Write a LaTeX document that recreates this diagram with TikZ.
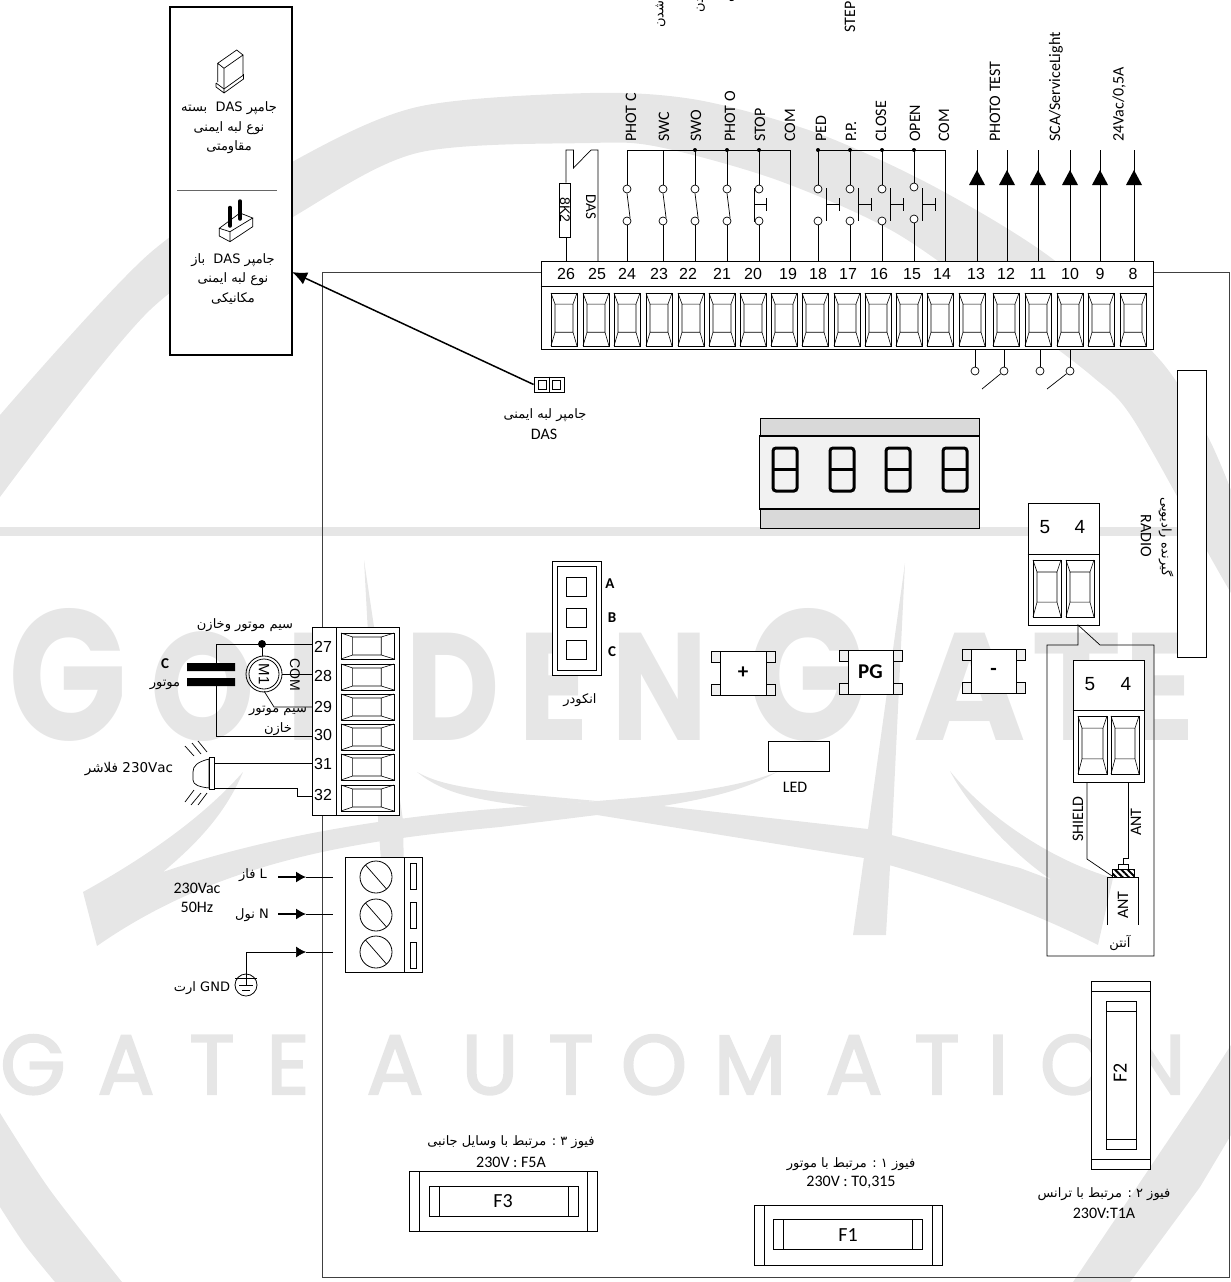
\documentclass[tikz,border=0pt]{standalone}
\usepackage{fontspec}
\usepackage{xcolor}
\usepackage{tikz}
\usetikzlibrary{positioning}
\usetikzlibrary{arrows.meta,patterns.meta}
\setmainfont{Carlito}
\newfontfamily\arabicfont[Script=Arabic]{DejaVu Sans}
\newfontfamily\numfont{Liberation Sans}
\newfontfamily\markfont{Poppins}
\newfontfamily\markthin[FakeBold=2.5]{Poppins}
\TeXXeTstate=1
\definecolor{markgray}{HTML}{E6E6E6}
\newcommand{\fa}[1]{\beginR #1\endR}
\newcommand{\lat}[1]{\beginL #1\endL{}}
\newcommand{\termcell}[4]{%
  \draw[type-cell] (#1,#2) rectangle ++(#3,#4);
  \draw[type-cell] (#1,#2) -- (#1+4,#2+.21*#4) -- (#1+4,#2+.74*#4) -- (#1,#2+#4)
    (#1+#3,#2) -- (#1+#3-4,#2+.21*#4) -- (#1+#3-4,#2+.74*#4) -- (#1+#3,#2+#4)
    (#1+4,#2+.21*#4) -- (#1+#3-4,#2+.21*#4) (#1+4,#2+.74*#4) -- (#1+#3-4,#2+.74*#4);}
\newcommand{\termcellh}[4]{%
  \draw[type-cell] (#1,#2) rectangle ++(#3,#4);
  \draw[type-cell] (#1,#2) -- (#1+.22*#3,#2+4) -- (#1+.76*#3,#2+4) -- (#1+#3,#2)
    (#1,#2+#4) -- (#1+.22*#3,#2+#4-4) -- (#1+.76*#3,#2+#4-4) -- (#1+#3,#2+#4)
    (#1+.22*#3,#2+4) -- (#1+.22*#3,#2+#4-4) (#1+.76*#3,#2+4) -- (#1+.76*#3,#2+#4-4);}
\newcommand{\fusebox}[8]{%
  \draw[type-wire,fill=white] (#1,#3) rectangle (#2,#4);
  \draw[type-wire] (#1+10,#3) -- (#1+10,#4) (#2-10,#3) -- (#2-10,#4);
  \draw[type-wire] (#5,#7) rectangle (#6,#8);
  \draw[type-wire] (#5+10,#7) -- (#5+10,#8) (#6-10,#7) -- (#6-10,#8);}
\begin{document}
\begin{tikzpicture}[
      x=1pt, y=-1pt,
      type-mark/.style={fill=markgray},
      type-big/.style={text=markgray, anchor=base, inner sep=0pt, transform shape, font=\fontsize{153}{153}\selectfont\markfont\bfseries},
      type-tall/.style={type-big, font=\fontsize{186}{186}\selectfont\markfont\bfseries},
      type-thin/.style={text=markgray, anchor=base, inner sep=0pt, font=\fontsize{84}{84}\selectfont\markthin},
      type-wire/.style={draw=black, line width=.7pt},
      type-cell/.style={draw=black, line width=.6pt},
      type-board/.style={draw=black!75, line width=1pt},
      type-block/.style={rectangle, draw=black, line width=.8pt, fill=white, inner sep=0pt},
      type-contact/.style={circle, draw=black, line width=.7pt, fill=white, minimum size=8pt, inner sep=0pt},
      type-dot/.style={circle, fill=black, minimum size=4pt, inner sep=0pt},
      type-label/.style={rotate=90, anchor=west, inner sep=0pt, font=\fontsize{16}{18}\selectfont},
      type-num/.style={inner sep=0pt, font=\fontsize{16}{16}\selectfont\numfont},
      type-fa/.style={inner sep=0pt, align=center, font=\fontsize{13}{19.5}\selectfont\arabicfont},
      type-text/.style={inner sep=0pt, align=center, font=\fontsize{16}{19}\selectfont},
      type-key/.style={inner sep=0pt, font=\fontsize{15}{15}\selectfont\bfseries},
      type-pad/.style={draw=black, line width=.7pt, fill=black!6}
    ]
      \useasboundingbox (0,0) rectangle (1231,1282);
      % watermark
      \fill[type-mark] (0,527) rectangle (1231,536);
      \fill[type-mark] plot[smooth] coordinates {(0,415) (150,253) (292,162) (417,107) (590,93) (698,100) (817,133) (935,187) (1054,260) (1160,360) (1207,435) (1231,490)}
        -- plot[smooth] coordinates {(1231,593) (1212,560) (1133,419) (1093,377) (1014,317) (896,233) (777,180) (659,147) (590,143) (417,153) (293,217) (150,310) (0,497)} -- cycle;
      \fill[type-mark] plot[smooth] coordinates {(0,1113) (50,1190) (122,1282)} -- (55,1282) -- plot[smooth] coordinates {(55,1282) (25,1245) (0,1207)} -- cycle;
      \fill[type-mark] (1231,1045) -- (1200,1093) -- (1073,1282) -- (1130,1282) -- (1200,1187) -- (1231,1135) -- cycle;
      \fill[type-mark] (83,892) .. controls (150,855) and (205,815) .. (243,772) .. controls (225,815) and (195,845) .. (163,872)
        .. controls (270,835) and (400,815) .. (520,807) -- (597,801) .. controls (670,795) and (730,790) .. (777,772)
        .. controls (745,790) and (710,798) .. (663,806) -- (868,829) -- (1020,868) -- (1052,880) .. controls (1020,860) and (970,810) .. (950,771)
        .. controls (985,815) and (1050,860) .. (1113,878) -- (1098,945) .. controls (1040,915) and (960,885) .. (889,865) -- (864,858) -- (597,815)
        -- (500,827) .. controls (360,840) and (220,860) .. (97,946) -- cycle;
      \fill[type-mark] (417,772) .. controls (440,785) and (470,788) .. (500,792) -- (597,801) -- (532,807) .. controls (480,800) and (445,795) .. (417,772) -- cycle;
      \fill[type-mark] (905,563) -- (892,833) -- (886,935) -- (853,935) -- (868,829) -- cycle;
      \fill[type-mark] (364,560) -- (403,820) -- (405,933) -- (386,933) -- (378,818) -- cycle;
      \foreach \ch/\px/\sx in {G/68/.84,G/807/.84} {
        \node[type-tall, xscale=\sx] (mark-\px) at (\px,740) {\ch};
      }
      \foreach \ch/\px/\sx in {O/203/.87,L/335/1.5,D/453/.85,E/554/.85,N/660/.84,A/970/1,T/1077/1,E/1160/.85} {
        \node[type-big, xscale=\sx] (mark-\px) at (\px,740) {\ch};
      }
      \foreach \ch/\px in {G/33,A/126,T/212,E/288,A/395,U/490,T/571,O/654,M/750,A/854,T/937,I/998,O/1073,N/1156} {
        \node[type-thin] (auto-\px) at (\px,1094) {\ch};
      }
      % board
      \draw[type-board] (322,272) rectangle (1229,1277);
      % top terminal
      \node[type-block, minimum width=612pt, minimum height=88pt] (top-block) at (847,305.5) {};
      \draw[type-wire] (top-block.west |- 0,286) -- (top-block.east |- 0,286);
      \foreach \n/\px in {26/566,25/597,24/627,23/659,22/688,21/722,20/753,19/788,18/818,17/848,16/879,15/912,14/942,13/976,12/1006,11/1038,10/1070,9/1100,8/1133} {
        \node[type-num] (t\n) at (\px,274) {\n};
      }
      \foreach \px in {551,583,614,646,678,709,740,771,802,834,865,896,927,959,993,1025,1057,1088,1120} {
        \termcell{\px}{293}{26}{53}
      }
      % switches on the top terminal
      \foreach \n/\px in {24/627,23/663,22/695,21/727} {
        \coordinate (w\n) at (\px,150);
        \node[type-contact] (c\n-a) at (\px,189) {};
        \node[type-contact] (c\n-b) at (\px,221) {};
        \draw[type-wire] (w\n) -- (c\n-a);
        \draw[type-wire] (c\n-a.south) -- (c\n-b.north east);
        \draw[type-wire] (c\n-b) -- (c\n-b |- top-block.north);
      }
      \coordinate (w20) at (759,150);
      \node[type-contact] (c20-a) at (759,189) {};
      \node[type-contact] (c20-b) at (759,221) {};
      \draw[type-wire] (w20) -- (c20-a);
      \draw[type-wire] (c20-b) -- (c20-b |- top-block.north);
      \draw[type-wire] (754,188) -- (754,222) (754,204) -- (766,204) (766,198) -- (766,211);
      \coordinate (w19) at (790,150);
      \draw[type-wire] (w24) -- (w19) -- (w19 |- top-block.north);
      \foreach \n in {22,21,20} {
        \node[type-dot] (d\n) at (w\n) {};
      }
      \foreach \n/\px/\bx/\cy in {18/818/826/189,17/850/858/189,16/882/890/189,15/914/922/187} {
        \coordinate (w\n) at (\px,150);
        \node[type-contact] (c\n-a) at (\px,\cy) {};
        \node[type-contact] (c\n-b) at (\px,\cy+32) {};
        \node[type-dot] (d\n) at (w\n) {};
        \draw[type-wire] (w\n) -- (c\n-a);
        \draw[type-wire] (c\n-b) -- (c\n-b |- top-block.north);
        \draw[type-wire] (\bx,188) -- (\bx,221) (\bx,204) -- (\bx+13,204) (\bx+13,198) -- (\bx+13,211);
      }
      \coordinate (w14) at (945,150);
      \draw[type-wire] (w18) -- (w14) -- (w14 |- top-block.north);
      % resistor and DAS link
      \node[type-block, minimum width=11pt, minimum height=54pt] (res) at (565,210) {};
      \node[rotate=-90, inner sep=0pt, font=\fontsize{14}{14}\selectfont\numfont] (res-text) at (res) {8K2};
      \coordinate (w26) at (566,150);
      \coordinate (w25) at (598,150);
      \draw[type-wire] (res.north -| w26) -- (w26) -- (573.5,150) -- (573.5,168) -- (591,150) -- (w25) -- (w25 |- top-block.north);
      \draw[type-wire] (res.south -| w26) -- (w26 |- top-block.north);
      \node[rotate=-90, inner sep=0pt, font=\fontsize{15}{15}\selectfont] (das-text) at (591,207) {DAS};
      % output arrows
      \foreach \n/\px in {13/977,12/1007,11/1038,10/1070,9/1100,8/1134} {
        \coordinate (w\n) at (\px,150);
        \draw[type-wire] (w\n) -- (w\n |- top-block.north);
        \fill (\px,170) -- (\px+8,185) -- (\px-8,185) -- cycle;
      }
      % labels of the top terminal
      \foreach \txt/\px in {PHOT C/631,SWC/664,SWO/696,PHOT O/730,STOP/760,COM/790,PED/821,P.P./851,CLOSE/881,OPEN/915,COM/944,PHOTO TEST/995,{SCA/ServiceLight}/1056,{24Vac/0,5A}/1119} {
        \node[type-label] (lab-\px) at (\px,142) {\txt};
      }
      \node[type-label] (lab-step) at (850,33) {STEP};
      \node[type-fa, rotate=90, anchor=west] (fa-a) at (660.5,28) {\fa{شدن}};
      \node[type-fa, rotate=90, anchor=west] (fa-b) at (700,13) {\fa{شدن}};
      \node[type-fa, rotate=90, anchor=west] (fa-c) at (730,3) {\fa{شدن}};
      % contacts under the terminal
      \foreach \n/\px in {13/975,12/1004,11/1040,10/1070} {
        \node[type-contact] (u\n) at (\px,371) {};
        \draw[type-wire] (u\n |- top-block.south) -- (u\n);
      }
      \draw[type-wire] (u12) -- (982,389);
      \draw[type-wire] (u10) -- (1047,389);
      % DAS panel
      \node[rectangle, draw=black, line width=1.6pt, fill=white, minimum width=122pt, minimum height=348pt] (das-panel) at (231,181) {};
      \draw[draw=black!60, line width=1pt] (177,190) -- (277,190);
      \draw[type-wire] (217.7,63.3) -- (236.7,50) -- (243,55) -- (224,68.3) -- cycle (217.7,63.3) -- (217.7,82) (224,68.3) -- (224,88) (243,55) -- (243,75);
      \draw[type-wire] (216,83) -- (224,89) -- (243.5,75) (216,83) -- (216,87) -- (224,93) -- (243.5,79) -- (243.5,74) (224,89) -- (224,93);
      \draw[type-wire] (219.3,228.3) -- (240,213) -- (252.7,218) -- (230,231.7) -- cycle (219.3,228.3) -- (219.3,236) -- (230,241.7) -- (252.7,226.7) -- (252.7,218) (230,231.7) -- (230,241.7);
      \draw[line width=3.5pt, line cap=round] (230,207.5) -- (230,226) (240,201) -- (240,219);
      \node[type-fa] (das-closed) at (229,128) {\fa{جامپر \lat{\ DAS} بسته}\\\fa{نوع لبه ایمنی}\\\fa{مقاومتی}};
      \node[type-fa] (das-open) at (233,279) {\fa{جامپر \lat{\ DAS} باز}\\\fa{نوع لبه ایمنی}\\\fa{مکانیکی}};
      % jumper
      \node[type-block, minimum width=30pt, minimum height=15pt] (das-jumper) at (549,384.5) {};
      \draw[type-wire] (das-jumper.north) -- (das-jumper.south);
      \draw[type-wire] (538,380) rectangle (546,389) (552,380) rectangle (560,389);
      \coordinate (das-tip) at (292,272);
      \draw[-{Latex[length=15pt,width=13pt]}, line width=1.5pt] (das-jumper.west) -- (das-tip);
      \node[type-fa] (das-name) at (545,415) {\fa{جامپر لبه ایمنی}};
      \node[type-text] (das-sub) at (544,434) {DAS};
      % display
      \draw[type-wire, fill=black!15] (760,418) rectangle (979,528);
      \foreach \px in {772,788,804,820,838,852,868,884,900,916,932,948,964} {
        \draw[white!85!black, line width=1pt] (\px,419) -- (\px,435) (\px,510) -- (\px,527);
      }
      \node[rectangle, draw=black, line width=1.4pt, fill=black!5, minimum width=220pt, minimum height=73pt] (display) at (869.5,472.5) {};
      \foreach \px in {785,842,898,955} {
        \draw[line width=3pt, rounded corners=3pt] (\px-12,448) rectangle (\px+12,491);
        \draw[line width=2.5pt] (\px-11,469.5) -- (\px+11,469.5);
      }
      % encoder
      \node[type-block, minimum width=49pt, minimum height=114pt] (encoder) at (576.5,618) {};
      \node[type-block, minimum width=39pt, minimum height=104pt] (encoder-in) at (encoder) {};
      \foreach \nm/\py/\ky/\kx in {A/586.5/584/610,B/618/618/612,C/650/652/612} {
        \node[type-block, minimum width=20pt, minimum height=19pt] (enc-\nm) at (576,\py) {};
        \node[type-key] (key-\nm) at (\kx,\ky) {\nm};
      }
      \node[type-fa] (enc-name) at (580,700) {\fa{انکودر}};
      % push buttons
      \foreach \nm/\cx/\cy/\bw/\txt in {plus/743/673/46/+,pg/870.5/672/45/PG,minus/993.5/671.5/45/-} {
        \foreach \sd in {-1,1} {
          \draw[type-pad] (\cx+\sd*\bw/2,\cy-22) rectangle (\cx+\sd*\bw/2+\sd*9,\cy-11);
          \draw[type-pad] (\cx+\sd*\bw/2,\cy+22) rectangle (\cx+\sd*\bw/2+\sd*9,\cy+11);
        }
        \node[type-block, minimum width=\bw pt, minimum height=44pt, font=\fontsize{21}{21}\selectfont\bfseries] (btn-\nm) at (\cx,\cy) {\txt};
      }
      \node[type-block, minimum width=61pt, minimum height=30pt] (led) at (798.5,756) {};
      \node[type-text] (led-name) at (795,787) {LED};
      % radio and antenna
      \node[type-block, minimum width=29pt, minimum height=287pt] (radio) at (1191.5,513.5) {};
      \node[type-fa, rotate=-90] (radio-fa) at (1166,537) {\fa{گیرنده رادیویی}};
      \node[type-text, rotate=-90] (radio-en) at (1146,536) {RADIO};
      \node[type-block, minimum width=71pt, minimum height=122pt] (radio-block) at (1063.5,564) {};
      \draw[type-wire] (radio-block.west |- 0,554) -- (radio-block.east |- 0,554);
      \node[type-num, font=\fontsize{19}{19}\selectfont\numfont] (rad-5) at (1045,527) {5};
      \node[type-num, font=\fontsize{19}{19}\selectfont\numfont] (rad-4) at (1080,527) {4};
      \termcell{1033}{560}{28}{57}
      \termcell{1066}{560}{28}{57}
      \draw[type-wire] (1047,645) -- (1078,645) -- (1078,625) -- (1100,645) -- (1154,645) -- (1154,956) -- (1047,956) -- cycle;
      \node[type-block, minimum width=71pt, minimum height=122pt] (ant-block) at (1108.5,721) {};
      \draw[type-wire] (ant-block.west |- 0,710) -- (ant-block.east |- 0,710);
      \node[type-num, font=\fontsize{19}{19}\selectfont\numfont] (ant-5) at (1090,684) {5};
      \node[type-num, font=\fontsize{19}{19}\selectfont\numfont] (ant-4) at (1126,684) {4};
      \termcell{1078}{716}{29}{58}
      \termcell{1111}{716}{28}{58}
      \coordinate (shield-in) at (1087,782);
      \coordinate (ant-in) at (1128,782);
      \draw[type-wire] (shield-in) -- (1087,859) -- (1112,876);
      \draw[type-wire] (ant-in) -- (1128,858) -- (1123,858) -- (1123,864);
      \draw[type-wire] (1118,864) rectangle (1128,869);
      \draw[type-wire, pattern={Lines[angle=-45,distance=4.5pt,line width=2pt]}] (1112,869) rectangle (1134,877);
      \draw[type-wire] (1107,925) -- (1107,877) -- (1138,877) -- (1138,925);
      \node[type-label, anchor=center] (ant-text) at (1123,905) {ANT};
      \node[type-label, anchor=center] (ant-shield) at (1078,819) {SHIELD};
      \node[type-label, anchor=center] (ant-wire) at (1136,822) {ANT};
      \node[type-fa] (ant-name) at (1120,943) {\fa{آنتن}};
      % motor terminal
      \node[type-block, minimum width=87pt, minimum height=188pt] (mot-block) at (355.5,721) {};
      \draw[type-wire] (336,627) -- (336,815);
      \foreach \n/\py/\cy in {27/647/633,28/676/664,29/707/694,30/735/724,31/764/754,32/795/785} {
        \node[type-num] (t\n) at (323,\py) {\n};
        \termcellh{341}{\cy}{53}{26}
      }
      \coordinate (n27) at (312,644);
      \coordinate (n28) at (312,674);
      \coordinate (n29) at (312,707);
      \coordinate (n30) at (312,736);
      \coordinate (n31) at (312,763);
      \coordinate (n32) at (312,796);
      \node[circle, draw=black, line width=.8pt, minimum size=36pt, inner sep=0pt] (m1) at (264,674) {};
      \node[circle, draw=black, line width=.8pt, minimum size=30pt, inner sep=0pt, rotate=-90, font=\fontsize{15}{15}\selectfont\numfont] (m1-in) at (m1) {M1};
      \node[type-dot, minimum size=8pt] (mot-dot) at (262,644) {};
      \draw[type-wire] (n27) -- (216,644) -- (216,667);
      \draw[type-wire] (216,682) -- (216,736) -- (n30);
      \draw[type-wire] (mot-dot) -- (262,656);
      \draw[type-wire] (m1.east) -- (n28);
      \draw[type-wire] (264,691) -- (274,707) -- (n29);
      \fill (187,663) rectangle (235,671) (187,678) rectangle (235,686);
      \node[rotate=-90, inner sep=0pt, font=\fontsize{14}{14}\selectfont\numfont] (com-text) at (295,675) {COM};
      \node[type-key] (cap-c) at (165,664) {C};
      \node[type-fa] (cap-name) at (165,685) {\fa{موتور}};
      \node[type-fa] (wire-a) at (245,625) {\fa{سیم موتور وخازن}};
      \node[type-fa] (wire-b) at (278,721) {\fa{سیم موتور}\\\fa{خازن}};
      % flasher
      \draw[type-wire, fill=white] (209,759) .. controls (197,762) and (193,766) .. (193,772) -- (193,780) .. controls (193,785) and (200,787) .. (209,788) -- cycle;
      \draw[type-wire, fill=white] (209,757) rectangle (214,789);
      \draw[type-wire] (214,763) -- (n31);
      \draw[type-wire] (214,788) -- (297,788) -- (297,796) -- (n32);
      \draw[type-wire] (185,746) -- (194,756) (192,743) -- (201,754) (198,741) -- (207,752);
      \draw[type-wire] (185,802) -- (194,790) (191,805) -- (201,793) (198,805) -- (207,793);
      \node[type-fa, font=\fontsize{13.5}{14}\selectfont\arabicfont] (flash-name) at (129,769) {\fa{\lat{230Vac} فلاشر}};
      % mains
      \node[type-block, minimum width=77pt, minimum height=115pt] (mains) at (383.5,914.5) {};
      \draw[type-wire] (404,857) -- (404,972);
      \foreach \nm/\py/\sy in {l/877/863,n/915/902,g/952/942} {
        \node[circle, draw=black, line width=.8pt, minimum size=32pt, inner sep=0pt] (screw-\nm) at (376,\py) {};
        \draw[type-wire] (365.5,\py-12) -- (386.5,\py+12);
        \draw[type-wire] (410,\sy) rectangle (416,\sy+26);
      }
      \coordinate (in-l) at (278,877);
      \coordinate (tip-l) at (306,877);
      \coordinate (end-l) at (333,877);
      \coordinate (in-n) at (278,914);
      \coordinate (tip-n) at (306,914);
      \coordinate (end-n) at (333,914);
      \coordinate (tip-g) at (306,952);
      \coordinate (end-g) at (333,952);
      \node[circle, draw=black, line width=.8pt, minimum size=22pt, inner sep=0pt] (gnd) at (246,985) {};
      \draw[-{Latex[length=10pt,width=11pt]}, line width=1.2pt] (in-l) -- (tip-l);
      \draw[-{Latex[length=10pt,width=11pt]}, line width=1.2pt] (in-n) -- (tip-n);
      \draw[type-wire] (tip-l) -- (end-l) (tip-n) -- (end-n);
      \draw[-{Latex[length=10pt,width=11pt]}, type-wire] (gnd.center) |- (tip-g);
      \draw[type-wire] (tip-g) -- (end-g);
      \draw[type-wire] (235,978) -- (257,978) (239,985) -- (253,985) (242,990) -- (250,990);
      \node[type-fa] (mains-l) at (253,875) {\fa{\lat{L} فاز}};
      \node[type-fa] (mains-n) at (252,915) {\fa{\lat{N} نول}};
      \node[type-text] (mains-v) at (197,897.5) {230Vac\\50Hz};
      \node[type-fa, font=\fontsize{13}{13}\selectfont\arabicfont] (mains-g) at (202,988) {\fa{\lat{GND} ارت}};
      % fuses
      \fusebox{409}{597}{1171}{1231}{429}{578}{1186}{1216}
      \fusebox{754}{942}{1205}{1265}{773}{922}{1219}{1249}
      \node[rectangle, draw=black, line width=.7pt, fill=white, minimum width=59pt, minimum height=188pt] (fuse-2) at (1120.5,1075) {};
      \draw[type-wire] (1091,991) -- (1150,991) (1091,1159) -- (1150,1159);
      \draw[type-wire] (1106,1001) rectangle (1136,1149);
      \draw[type-wire] (1106,1011) -- (1136,1011) (1106,1139) -- (1136,1139);
      \node[type-text, font=\fontsize{20}{20}\selectfont] (fuse-3-name) at (503,1201) {F3};
      \node[type-text, font=\fontsize{20}{20}\selectfont] (fuse-1-name) at (848,1235) {F1};
      \node[type-text, rotate=90, font=\fontsize{20}{20}\selectfont] (fuse-2-name) at (1120,1073) {F2};
      \node[type-fa] (fuse-3-fa) at (511,1142) {\fa{فیوز ۳ : مرتبط با وسایل جانبی}};
      \node[type-text] (fuse-3-val) at (511,1162) {230V : F5A};
      \node[type-fa] (fuse-1-fa) at (851,1164) {\fa{فیوز ۱ : مرتبط با موتور}};
      \node[type-text] (fuse-1-val) at (851,1182) {230V : T0,315};
      \node[type-fa] (fuse-2-fa) at (1104,1194) {\fa{فیوز ۲ : مرتبط با ترانس}};
      \node[type-text] (fuse-2-val) at (1104,1213) {230V:T1A};
    \end{tikzpicture}
\end{document}
